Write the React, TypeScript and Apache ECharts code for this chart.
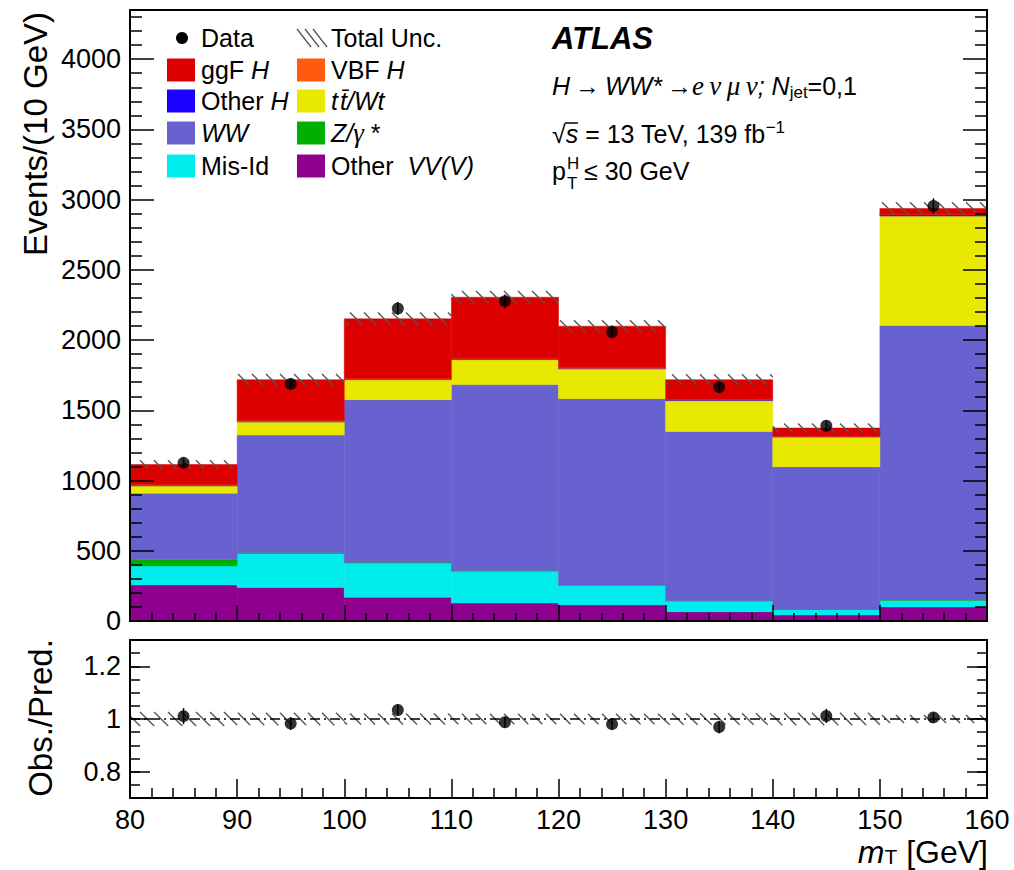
import { useEffect, useRef } from "react";
import * as echarts from "echarts";

// m_T bin edges [GeV]
const binEdges = [80, 90, 100, 110, 120, 130, 140, 150, 160];

// Predicted yields per bin, stacked from the bottom up
const otherVV = [257, 238, 169, 128, 114, 66, 43, 100];
const misId = [135, 243, 244, 227, 140, 77, 38, 48];
const zGamma = [45, 6, 5, 4, 3, 2, 2, 2];
const ww = [473, 837, 1158, 1324, 1326, 1205, 1015, 1953];
const topWt = [52, 93, 142, 178, 212, 219, 212, 780];
const otherH = [4, 4, 4, 4, 4, 4, 3, 8];
const vbfH = [4, 4, 4, 4, 4, 4, 3, 3];
const ggfH = [144, 293, 425, 436, 296, 141, 58, 43];

// Observed events, their statistical errors and the total prediction uncertainty
const dataCounts = [1126, 1688, 2225, 2277, 2058, 1666, 1390, 2955];
const dataErr = [34, 41, 47, 48, 45, 41, 37, 54];
const totalUnc = [30, 40, 45, 45, 42, 38, 32, 45];

// Axis tick labels
const ratioTicks = [0.8, 1, 1.2];

const SANS = "'Liberation Sans', Arial, Helvetica, sans-serif";
const SERIF = "'Liberation Serif', 'DejaVu Serif', serif";

const components = [
  { name: "Other VV(V)", values: otherVV, color: "#8f008f" },
  { name: "Mis-Id", values: misId, color: "#00eded" },
  { name: "Z/γ*", values: zGamma, color: "#00b000" },
  { name: "WW", values: ww, color: "#6762cf" },
  { name: "tt̄/Wt", values: topWt, color: "#e8e800" },
  { name: "Other H", values: otherH, color: "#1a00ff" },
  { name: "VBF H", values: vbfH, color: "#ff5a10" },
  { name: "ggF H", values: ggfH, color: "#dc0000" },
];

const nBins = binEdges.length - 1;
const centres = binEdges.slice(0, -1).map((e, i) => (e + binEdges[i + 1]) / 2);
const totals = Array.from({ length: nBins }, (_, i) =>
  components.reduce((s, c) => s + c.values[i], 0)
);

function histRender(color: string) {
  return (_params: any, api: any) => {
    const a = api.coord([api.value(0), api.value(3)]);
    const b = api.coord([api.value(1), api.value(2)]);
    return {
      type: "rect",
      shape: { x: a[0], y: a[1], width: b[0] - a[0], height: b[1] - a[1] },
      style: { fill: color, stroke: color, lineWidth: 0.5 },
    };
  };
}

function hatchRender(spacing: number) {
  return (_params: any, api: any) => {
    const x0 = api.value(0);
    const x1 = api.value(1);
    const c = api.value(2);
    const u = api.value(3);
    const pTop = api.coord([x0, c + u]);
    const pBot = api.coord([x1, c - u]);
    const left = pTop[0];
    const right = pBot[0];
    const yTop = pTop[1];
    const yBot = pBot[1];
    const h = yBot - yTop;
    const children: any[] = [];
    const start = Math.ceil((left - h) / spacing) * spacing;
    for (let sx = start; sx < right; sx += spacing) {
      let ax = sx;
      let ay = yTop;
      let bx = sx + h;
      let by = yBot;
      if (ax < left) {
        ay += left - ax;
        ax = left;
      }
      if (bx > right) {
        by -= bx - right;
        bx = right;
      }
      if (bx <= ax) continue;
      children.push({
        type: "line",
        shape: { x1: ax, y1: ay, x2: bx, y2: by },
        style: { stroke: "#555", lineWidth: 1.4 },
      });
    }
    return { type: "group", children };
  };
}

function errRender(_params: any, api: any) {
  const lo = api.coord([api.value(0), api.value(1) - api.value(2)]);
  const hi = api.coord([api.value(0), api.value(1) + api.value(2)]);
  return {
    type: "line",
    shape: { x1: lo[0], y1: lo[1], x2: hi[0], y2: hi[1] },
    style: { stroke: "#000", lineWidth: 1.5 },
  };
}

const tok = (extra: any = {}) => ({
  fontFamily: SANS,
  fontSize: 25,
  lineHeight: 30,
  fill: "#000",
  ...extra,
});

function legendText(x: number, y: number, text: string) {
  return {
    type: "text",
    x,
    y,
    style: {
      text,
      align: "left",
      verticalAlign: "middle",
      fontFamily: SANS,
      fontSize: 25,
      fill: "#000",
      rich: {
        n: tok(),
        i: tok({ fontStyle: "italic" }),
        g: tok({ fontFamily: SERIF, fontStyle: "italic", fontSize: 27 }),
      },
    },
  };
}

function legendBox(x: number, y: number, color: string) {
  return {
    type: "rect",
    shape: { x, y: y - 11.5, width: 28, height: 23 },
    style: { fill: color },
  };
}

function buildGraphic() {
  const col = (name: string) => components.find((c) => c.name === name)!.color;
  const rows = [38, 70, 101, 133, 166];
  const bx1 = 167;
  const tx1 = 201;
  const bx2 = 297;
  const tx2 = 331;
  const g: any[] = [];

  // Legend
  g.push({ type: "circle", shape: { cx: 182, cy: rows[0], r: 6 }, style: { fill: "#000" } });
  g.push(legendText(tx1, rows[0], "{n|Data}"));
  for (let k = 0; k < 3; k++) {
    const s = bx2 + k * 8;
    g.push({
      type: "line",
      shape: { x1: s, y1: rows[0] - 9, x2: s + 14, y2: rows[0] + 9 },
      style: { stroke: "#555", lineWidth: 1.3 },
    });
  }
  g.push(legendText(tx2, rows[0], "{n|Total Unc.}"));

  g.push(legendBox(bx1, rows[1], col("ggF H")));
  g.push(legendText(tx1, rows[1], "{n|ggF }{i|H}"));
  g.push(legendBox(bx2, rows[1], col("VBF H")));
  g.push(legendText(tx2, rows[1], "{n|VBF }{i|H}"));

  g.push(legendBox(bx1, rows[2], col("Other H")));
  g.push(legendText(tx1, rows[2], "{n|Other }{i|H}"));
  g.push(legendBox(bx2, rows[2], col("tt̄/Wt")));
  g.push(legendText(tx2, rows[2], "{i|t\u200at\u0304/Wt}"));

  g.push(legendBox(bx1, rows[3], col("WW")));
  g.push(legendText(tx1, rows[3], "{i|WW}"));
  g.push(legendBox(bx2, rows[3], col("Z/γ*")));
  g.push(legendText(tx2, rows[3], "{i|Z/}{g|γ}{n| *}"));

  g.push(legendBox(bx1, rows[4], col("Mis-Id")));
  g.push(legendText(tx1, rows[4], "{n|Mis-Id}"));
  g.push(legendBox(bx2, rows[4], col("Other VV(V)")));
  g.push(legendText(tx2, rows[4], "{n|Other  }{i|VV(V)}"));

  // ATLAS label block
  g.push({
    type: "text",
    x: 552,
    y: 38,
    style: {
      text: "ATLAS",
      fontFamily: SANS,
      fontSize: 31,
      fontWeight: "bold",
      fontStyle: "italic",
      fill: "#000",
      align: "left",
      verticalAlign: "middle",
    },
  });
  const richInfo = {
    n: tok(),
    i: tok({ fontStyle: "italic" }),
    g: tok({ fontFamily: SERIF, fontStyle: "italic", fontSize: 27 }),
    sub: tok({ fontSize: 17, lineHeight: 14, verticalAlign: "bottom" }),
    sup: tok({ fontSize: 17, lineHeight: 14, verticalAlign: "top" }),
  };
  g.push({
    type: "text",
    x: 552,
    y: 86,
    style: {
      text: "{i|H}{n|\u2009→\u2009}{i|WW*}{n|\u2009→}{g|e\u2009ν\u2009μ\u2009ν}{i|; N}{sub|jet}{n|=0,1}",
      align: "left",
      verticalAlign: "middle",
      rich: richInfo,
    },
  });
  g.push({
    type: "text",
    x: 552,
    y: 134,
    style: {
      text: "{n|√}{i|s}{n| = 13 TeV, 139 fb}{sup|−1}",
      align: "left",
      verticalAlign: "middle",
      rich: richInfo,
    },
  });
  // overbar of the square root
  g.push({
    type: "line",
    shape: { x1: 565, y1: 123, x2: 578, y2: 123 },
    style: { stroke: "#000", lineWidth: 1.5 },
  });
  g.push({
    type: "text",
    x: 552,
    y: 171,
    style: { text: "p", fontFamily: SANS, fontSize: 25, fill: "#000", align: "left", verticalAlign: "middle" },
  });
  g.push({
    type: "text",
    x: 567,
    y: 163,
    style: { text: "H", fontFamily: SANS, fontSize: 17, fill: "#000", align: "left", verticalAlign: "middle" },
  });
  g.push({
    type: "text",
    x: 567,
    y: 183,
    style: { text: "T", fontFamily: SANS, fontSize: 17, fill: "#000", align: "left", verticalAlign: "middle" },
  });
  g.push({
    type: "text",
    x: 584,
    y: 171,
    style: { text: "≤ 30 GeV", fontFamily: SANS, fontSize: 25, fill: "#000", align: "left", verticalAlign: "middle" },
  });

  // Axis titles
  g.push({
    type: "text",
    x: 35,
    y: 12,
    rotation: Math.PI / 2,
    style: {
      text: "Events/(10 GeV)",
      fontFamily: SANS,
      fontSize: 33,
      fill: "#000",
      align: "right",
      verticalAlign: "middle",
    },
  });
  g.push({
    type: "text",
    x: 40,
    y: 718,
    rotation: Math.PI / 2,
    style: {
      text: "Obs./Pred.",
      fontFamily: SANS,
      fontSize: 33,
      fill: "#000",
      align: "center",
      verticalAlign: "middle",
    },
  });
  g.push({
    type: "text",
    x: 988,
    y: 852,
    style: {
      text: "{i|m}{sub|T}{n| [GeV]}",
      align: "right",
      verticalAlign: "middle",
      rich: {
        n: tok({ fontSize: 32, lineHeight: 30 }),
        i: tok({ fontSize: 32, lineHeight: 30, fontStyle: "italic" }),
        sub: tok({ fontSize: 21, lineHeight: 14, verticalAlign: "bottom" }),
      },
    },
  });
  return g;
}

function xAxisDef(gridIndex: number, showLabels: boolean, major: number, minor: number) {
  return {
    type: "value",
    gridIndex,
    min: 80,
    max: 160,
    interval: 10,
    z: 10,
    axisLine: { show: false },
    splitLine: { show: false },
    axisTick: { show: true, inside: true, length: major, lineStyle: { color: "#000", width: 1.5 } },
    minorTick: { show: true, splitNumber: 5, length: minor, lineStyle: { color: "#000", width: 1.5 } },
    axisLabel: {
      show: showLabels,
      fontFamily: SANS,
      fontSize: 27,
      lineHeight: 27,
      color: "#000",
      margin: 8,
    },
  };
}

export default function App() {
  const ref = useRef<HTMLDivElement>(null);

  useEffect(() => {
    if (!ref.current) return;
    const chart = echarts.init(ref.current, undefined, { renderer: "svg" });

    const series: any[] = [];
    const base = new Array(nBins).fill(0);
    components.forEach((c) => {
      const data = c.values.map((v, i) => {
        const item = [binEdges[i], binEdges[i + 1], base[i], base[i] + v];
        base[i] += v;
        return item;
      });
      series.push({
        type: "custom",
        name: c.name,
        xAxisIndex: 0,
        yAxisIndex: 0,
        renderItem: histRender(c.color),
        encode: { x: [0, 1], y: [2, 3] },
        data,
        clip: true,
        z: 2,
      });
    });

    // Total uncertainty band on the stack
    series.push({
      type: "custom",
      name: "Total Unc.",
      xAxisIndex: 0,
      yAxisIndex: 0,
      renderItem: hatchRender(14),
      encode: { x: [0, 1], y: 2 },
      data: totals.map((t, i) => [binEdges[i], binEdges[i + 1], t, totalUnc[i]]),
      clip: true,
      z: 3,
    });

    // Data points
    series.push({
      type: "custom",
      name: "Data err",
      xAxisIndex: 0,
      yAxisIndex: 0,
      renderItem: errRender,
      encode: { x: 0, y: 1 },
      data: dataCounts.map((d, i) => [centres[i], d, dataErr[i]]),
      z: 4,
    });
    series.push({
      type: "scatter",
      name: "Data",
      xAxisIndex: 0,
      yAxisIndex: 0,
      symbol: "circle",
      symbolSize: 12,
      itemStyle: { color: "#000" },
      data: dataCounts.map((d, i) => [centres[i], d]),
      z: 5,
    });

    // Ratio panel
    series.push({
      type: "custom",
      name: "Ratio unc",
      xAxisIndex: 1,
      yAxisIndex: 2,
      renderItem: hatchRender(14),
      encode: { x: [0, 1], y: 2 },
      data: totals.map((t, i) => [binEdges[i], binEdges[i + 1], 1, totalUnc[i] / t]),
      clip: true,
      z: 3,
    });
    series.push({
      type: "line",
      name: "Unity",
      xAxisIndex: 1,
      yAxisIndex: 2,
      symbol: "none",
      data: [
        [80, 1],
        [160, 1],
      ],
      lineStyle: { color: "#000", width: 1.3, type: [10, 4, 2, 4] },
      z: 3,
    });
    series.push({
      type: "custom",
      name: "Ratio err",
      xAxisIndex: 1,
      yAxisIndex: 2,
      renderItem: errRender,
      encode: { x: 0, y: 1 },
      data: dataCounts.map((d, i) => [centres[i], d / totals[i], dataErr[i] / totals[i]]),
      z: 4,
    });
    series.push({
      type: "scatter",
      name: "Ratio",
      xAxisIndex: 1,
      yAxisIndex: 2,
      symbol: "circle",
      symbolSize: 12,
      itemStyle: { color: "#000" },
      data: dataCounts.map((d, i) => [centres[i], d / totals[i]]),
      z: 5,
    });

    const tickStyle = { color: "#000", width: 1.5 };
    const option: any = {
      animation: false,
      backgroundColor: "#fff",
      textStyle: { fontFamily: SANS },
      grid: [
        { left: 130, right: 27, top: 10, height: 611, show: true, borderColor: "#000", borderWidth: 2, backgroundColor: "transparent", z: 10 },
        { left: 130, right: 27, top: 640, height: 158, show: true, borderColor: "#000", borderWidth: 2, backgroundColor: "transparent", z: 10 },
      ],
      xAxis: [xAxisDef(0, false, 16, 8), xAxisDef(1, true, 19, 10)],
      yAxis: [
        {
          type: "value",
          gridIndex: 0,
          position: "left",
          min: 0,
          max: 4350,
          interval: 500,
          z: 10,
          axisLine: { show: false },
          splitLine: { show: false },
          axisTick: { inside: true, length: 24, lineStyle: tickStyle },
          minorTick: { show: true, splitNumber: 5, length: 12, lineStyle: tickStyle },
          axisLabel: {
            fontFamily: SANS,
            fontSize: 27,
            color: "#000",
            margin: 9,
            showMaxLabel: false,
            formatter: (v: number) => (v % 500 === 0 ? String(v) : ""),
          },
        },
        {
          type: "value",
          gridIndex: 0,
          position: "right",
          min: 0,
          max: 4350,
          interval: 500,
          z: 10,
          axisLine: { show: false },
          splitLine: { show: false },
          axisTick: { inside: true, length: 24, lineStyle: tickStyle },
          minorTick: { show: true, splitNumber: 5, length: 12, lineStyle: tickStyle },
          axisLabel: { show: false },
        },
        {
          type: "value",
          gridIndex: 1,
          position: "left",
          min: 0.7,
          max: 1.3,
          z: 10,
          axisLine: { show: false },
          splitLine: { show: false },
          axisTick: { inside: true, length: 20, lineStyle: tickStyle, customValues: ratioTicks },
          axisLabel: {
            fontFamily: SANS,
            fontSize: 27,
            color: "#000",
            margin: 9,
            customValues: ratioTicks,
          },
        },
        {
          type: "value",
          gridIndex: 1,
          position: "left",
          min: 0.7,
          max: 1.3,
          interval: 0.05,
          z: 10,
          axisLine: { show: false },
          splitLine: { show: false },
          axisTick: { inside: true, length: 10, lineStyle: tickStyle },
          axisLabel: { show: false },
        },
        {
          type: "value",
          gridIndex: 1,
          position: "right",
          min: 0.7,
          max: 1.3,
          z: 10,
          axisLine: { show: false },
          splitLine: { show: false },
          axisTick: { inside: true, length: 20, lineStyle: tickStyle, customValues: ratioTicks },
          axisLabel: { show: false },
        },
        {
          type: "value",
          gridIndex: 1,
          position: "right",
          min: 0.7,
          max: 1.3,
          interval: 0.05,
          z: 10,
          axisLine: { show: false },
          splitLine: { show: false },
          axisTick: { inside: true, length: 10, lineStyle: tickStyle },
          axisLabel: { show: false },
        },
      ],
      series,
      graphic: buildGraphic(),
    };

    chart.setOption(option);
    return () => chart.dispose();
  }, []);

  return (
    <div
      ref={ref}
      style={{ position: "fixed", left: 0, top: 0, width: 1014, height: 870, background: "#fff" }}
    />
  );
}
